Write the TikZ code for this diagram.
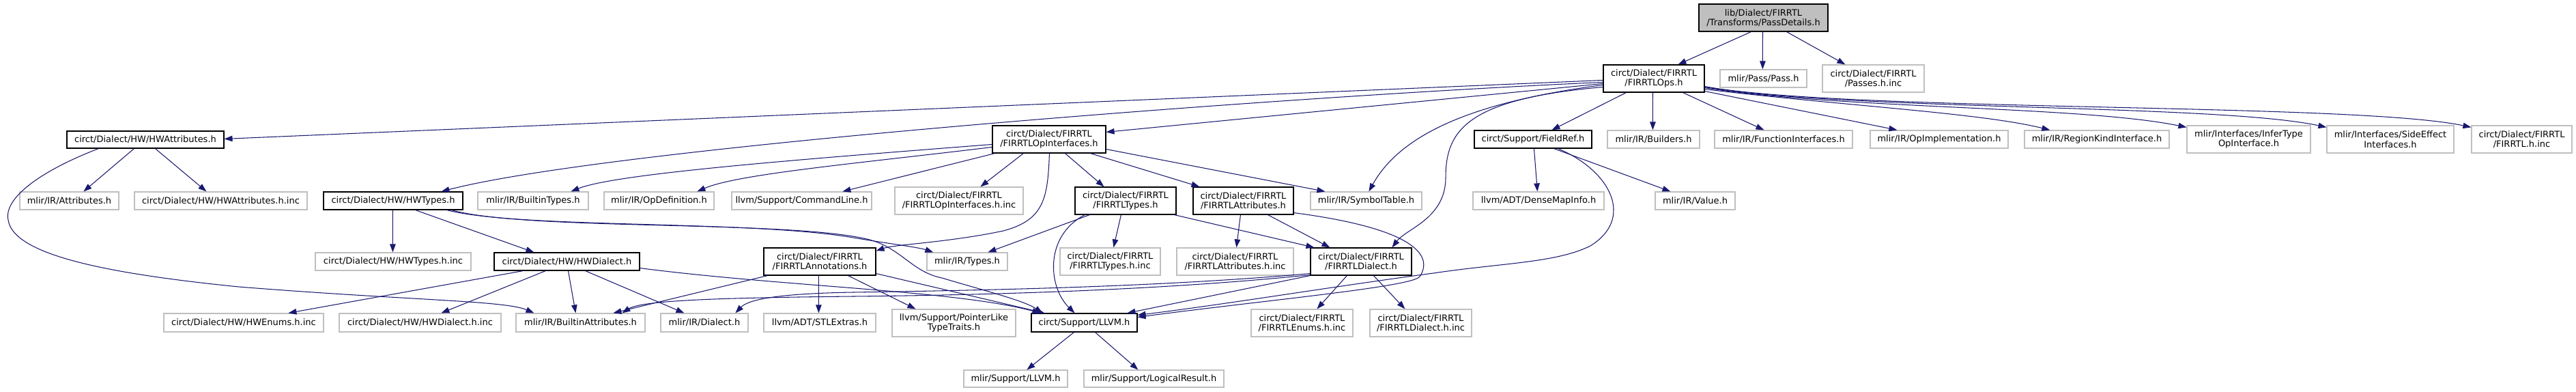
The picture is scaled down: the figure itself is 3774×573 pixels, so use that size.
\documentclass[tikz,border=0pt]{standalone}
\usepackage{fontspec}
\setmainfont{DejaVu Sans}
\usetikzlibrary{arrows.meta,calc}
\definecolor{edgec}{HTML}{191970}
\definecolor{greyb}{HTML}{BFBFBF}
\newcommand{\dnode}[7]{\node[#1, minimum width={#4-#3}, minimum height={#6-#5}] (#2) at ({(#3+#4)/2},{(#5+#6)/2}) {#7};}
\tikzset{
  nb/.style={draw=black, line width=1.1pt, fill=white, rectangle, inner sep=0pt, align=center, font=\fontsize{13}{14.5}\selectfont},
  ng/.style={nb, draw=greyb, line width=1.2pt},
  nroot/.style={nb, fill=greyb},
  edge/.style={draw=edgec, line width=1.05pt, -{Triangle[length=12pt,width=8.5pt]}},
}
\begin{document}
\begin{tikzpicture}[x=1pt,y=-1pt]
\fill[white] (0,0) rectangle (3774,573);
\useasboundingbox (0,0) rectangle (3774,573);
% row 0
\dnode{nroot}{pd}{2489}{2678}{6}{46}{lib/Dialect/FIRRTL\\/Transforms/PassDetails.h}
% row 1
\dnode{nb}{ops}{2349}{2497}{95}{135}{circt/Dialect/FIRRTL\\/FIRRTLOps.h}
\dnode{ng}{pass}{2520}{2647}{102}{128}{mlir/Pass/Pass.h}
\dnode{ng}{passes}{2670}{2819}{95}{135}{circt/Dialect/FIRRTL\\/Passes.h.inc}
% row 2
\dnode{nb}{hwattr}{98}{328}{192}{217}{circt/Dialect/HW/HWAttributes.h}
\dnode{nb}{opif}{1454}{1620}{184}{224}{circt/Dialect/FIRRTL\\/FIRRTLOpInterfaces.h}
\dnode{nb}{fieldref}{2160}{2332}{191}{217}{circt/Support/FieldRef.h}
\dnode{ng}{builders}{2355}{2490}{191}{217}{mlir/IR/Builders.h}
\dnode{ng}{funcif}{2512}{2714}{191}{217}{mlir/IR/FunctionInterfaces.h}
\dnode{ng}{opimpl}{2740}{2942}{191}{217}{mlir/IR/OpImplementation.h}
\dnode{ng}{regionkind}{2966}{3178}{191}{217}{mlir/IR/RegionKindInterface.h}
\dnode{ng}{infertype}{3204}{3385}{184}{224}{mlir/Interfaces/InferType\\OpInterface.h}
\dnode{ng}{sideeffect}{3409}{3595}{184}{224}{mlir/Interfaces/SideEffect\\Interfaces.h}
\dnode{ng}{firrtlinc}{3621}{3768}{184}{224}{circt/Dialect/FIRRTL\\/FIRRTL.h.inc}
% row 3
\dnode{ng}{attrs}{29}{174}{281}{307}{mlir/IR/Attributes.h}
\dnode{ng}{hwattrinc}{197}{450}{281}{307}{circt/Dialect/HW/HWAttributes.h.inc}
\dnode{nb}{hwtypes}{474}{678}{281}{307}{circt/Dialect/HW/HWTypes.h}
\dnode{ng}{builtintypes}{700}{862}{281}{307}{mlir/IR/BuiltinTypes.h}
\dnode{ng}{opdef}{885}{1046}{281}{307}{mlir/IR/OpDefinition.h}
\dnode{ng}{cmdline}{1072}{1277}{281}{307}{llvm/Support/CommandLine.h}
\dnode{ng}{opifinc}{1311}{1499}{274}{314}{circt/Dialect/FIRRTL\\/FIRRTLOpInterfaces.h.inc}
\dnode{nb}{ftypes}{1575}{1723}{274}{314}{circt/Dialect/FIRRTL\\/FIRRTLTypes.h}
\dnode{nb}{fattrs}{1748}{1895}{274}{314}{circt/Dialect/FIRRTL\\/FIRRTLAttributes.h}
\dnode{ng}{symtab}{1920}{2083}{281}{307}{mlir/IR/SymbolTable.h}
\dnode{ng}{densemap}{2158}{2350}{281}{307}{llvm/ADT/DenseMapInfo.h}
\dnode{ng}{value}{2425}{2542}{281}{307}{mlir/IR/Value.h}
% row 4
\dnode{ng}{hwtypesinc}{462}{690}{370}{396}{circt/Dialect/HW/HWTypes.h.inc}
\dnode{nb}{hwdialect}{724}{937}{370}{396}{circt/Dialect/HW/HWDialect.h}
\dnode{nb}{annot}{1119}{1283}{363}{403}{circt/Dialect/FIRRTL\\/FIRRTLAnnotations.h}
\dnode{ng}{types}{1358}{1476}{370}{396}{mlir/IR/Types.h}
\dnode{ng}{ftypesinc}{1553}{1700}{363}{403}{circt/Dialect/FIRRTL\\/FIRRTLTypes.h.inc}
\dnode{ng}{fattrsinc}{1724}{1895}{363}{403}{circt/Dialect/FIRRTL\\/FIRRTLAttributes.h.inc}
\dnode{nb}{fdialect}{1920}{2068}{363}{403}{circt/Dialect/FIRRTL\\/FIRRTLDialect.h}
% row 5
\dnode{ng}{hwenums}{240}{474}{459}{486}{circt/Dialect/HW/HWEnums.h.inc}
\dnode{ng}{hwdialectinc}{497}{734}{459}{486}{circt/Dialect/HW/HWDialect.h.inc}
\dnode{ng}{builtinattrs}{756}{945}{459}{486}{mlir/IR/BuiltinAttributes.h}
\dnode{ng}{dialect}{968}{1096}{459}{486}{mlir/IR/Dialect.h}
\dnode{ng}{stlextras}{1119}{1283}{459}{486}{llvm/ADT/STLExtras.h}
\dnode{ng}{pointerlike}{1307}{1488}{453}{493}{llvm/Support/PointerLike\\TypeTraits.h}
\dnode{nb}{llvm}{1511}{1666}{459}{486}{circt/Support/LLVM.h}
\dnode{ng}{fenums}{1833}{1982}{453}{493}{circt/Dialect/FIRRTL\\/FIRRTLEnums.h.inc}
\dnode{ng}{fdialectinc}{2007}{2156}{453}{493}{circt/Dialect/FIRRTL\\/FIRRTLDialect.h.inc}
% row 6
\dnode{ng}{mlirllvm}{1412}{1564}{542}{567}{mlir/Support/LLVM.h}
\dnode{ng}{logical}{1588}{1793}{542}{567}{mlir/Support/LogicalResult.h}

% ---- edges ----
% PassDetails
\draw[edge] ($(pd.south west)+(77,0)$) -- ($(ops.north west)+(110,0)$);
\draw[edge] ($(pd.south west)+(94,0)$) -- ($(pass.north west)+(63,0)$);
\draw[edge] ($(pd.south west)+(129,0)$) -- ($(passes.north west)+(34,0)$);
% FIRRTLOps
\draw[edge] ($(ops.north west)+(0,23)$) -- ($(hwattr.north east)+(0,12)$);
\draw[edge] ($(ops.north west)+(0,26)$) .. controls (1900,140) and (900,215) .. ($(hwtypes.north west)+(173,0)$);
\draw[edge] ($(ops.north west)+(0,28)$) -- ($(opif.north east)+(0,10)$);
\draw[edge] ($(ops.north west)+(0,30)$) .. controls (2150,150) and (2050,200) .. ($(symtab.north west)+(86,0)$);
\draw[edge] ($(ops.north west)+(0,33)$) .. controls (2150,145) and (2118,190) .. (2118,260) .. controls (2118,320) and (2060,335) .. ($(fdialect.north west)+(120,0)$);
\draw[edge] ($(ops.south west)+(34,0)$) -- ($(fieldref.north west)+(114,0)$);
\draw[edge] ($(ops.south west)+(73,0)$) -- ($(builders.north west)+(67,0)$);
\draw[edge] ($(ops.south west)+(117,0)$) -- ($(funcif.north west)+(73,0)$);
\draw[edge] ($(ops.south east)+(0,-2)$) -- ($(opimpl.north west)+(40,0)$);
\draw[edge] ($(ops.south east)+(0,-5)$) .. controls (2700,155) and (2900,165) .. ($(regionkind.north west)+(38,0)$);
\draw[edge] ($(ops.south east)+(0,-7)$) .. controls (2700,160) and (3050,155) .. ($(infertype.north west)+(0,3)$);
\draw[edge] ($(ops.south east)+(0,-8)$) .. controls (2700,162) and (3250,152) .. ($(sideeffect.north west)+(0,3)$);
\draw[edge] ($(ops.south east)+(0,-9)$) .. controls (2700,164) and (3450,150) .. ($(firrtlinc.north west)+(0,3)$);
% FIRRTLOpInterfaces
\draw[edge] ($(opif.north west)+(0,28)$) .. controls (1150,235) and (900,255) .. ($(builtintypes.north west)+(137,0)$);
\draw[edge] ($(opif.north west)+(0,32)$) .. controls (1250,240) and (1080,255) .. ($(opdef.north west)+(137,0)$);
\draw[edge] ($(opif.south west)+(4,0)$) -- ($(cmdline.north west)+(163,0)$);
\draw[edge] ($(opif.south west)+(46,0)$) -- ($(opifinc.north west)+(126,0)$);
\draw[edge] ($(opif.south west)+(107,0)$) -- ($(ftypes.north west)+(43,0)$);
\draw[edge] ($(opif.south west)+(144,0)$) -- ($(fattrs.north west)+(10,0)$);
\draw[edge] ($(opif.north east)+(0,35)$) -- ($(symtab.north west)+(22,0)$);
\draw[edge] ($(opif.south west)+(84,0)$) .. controls (1535,290) and (1530,322) .. (1470,338) .. controls (1390,355) and (1310,358) .. ($(annot.north east)+(0,5)$);
% HWAttributes
\draw[edge] ($(hwattr.south west)+(99,0)$) -- ($(attrs.north west)+(94,0)$);
\draw[edge] ($(hwattr.south west)+(130,0)$) -- ($(hwattrinc.north west)+(106,0)$);
\draw[edge] ($(hwattr.south west)+(47,0)$) .. controls (60,250) and (5,290) .. (12,322) .. controls (19,372) and (150,400) .. (350,420) .. controls (600,440) and (740,440) .. ($(builtinattrs.north west)+(27,0)$);
% HWTypes
\draw[edge] ($(hwtypes.south west)+(102,0)$) -- ($(hwtypesinc.north west)+(114,0)$);
\draw[edge] ($(hwtypes.south west)+(135,0)$) -- ($(hwdialect.north west)+(59,0)$);
\draw[edge] ($(hwtypes.south west)+(181,0)$) .. controls (760,335) and (1100,322) .. (1250,348) .. controls (1310,358) and (1345,362) .. ($(types.north west)+(10,0)$);
\draw[edge] ($(hwtypes.south west)+(188,0)$) .. controls (770,338) and (1150,322) .. (1270,350) .. controls (1320,362) and (1335,398) .. (1380,407) .. controls (1440,425) and (1500,440) .. ($(llvm.north west)+(17,0)$);
% HWDialect
\draw[edge] ($(hwdialect.south west)+(43,0)$) -- ($(hwenums.north west)+(183,0)$);
\draw[edge] ($(hwdialect.south west)+(76,0)$) -- ($(hwdialectinc.north west)+(150,0)$);
\draw[edge] ($(hwdialect.south west)+(109,0)$) -- ($(builtinattrs.north west)+(88,0)$);
\draw[edge] ($(hwdialect.south west)+(134,0)$) -- ($(dialect.north west)+(35,0)$);
\draw[edge] ($(hwdialect.south east)+(0,-4)$) .. controls (1150,420) and (1400,425) .. ($(llvm.north west)+(14,0)$);
% FIRRTLAnnotations
\draw[edge] ($(annot.south west)+(6,0)$) -- ($(builtinattrs.north west)+(143,0)$);
\draw[edge] ($(annot.south west)+(81,0)$) -- ($(stlextras.north west)+(81,0)$);
\draw[edge] ($(annot.south west)+(124,0)$) -- ($(pointerlike.north west)+(35,0)$);
\draw[edge] ($(annot.south east)+(0,-3)$) -- ($(llvm.north west)+(20,0)$);
% FIRRTLTypes
\draw[edge] ($(ftypes.south west)+(22,0)$) -- ($(types.north west)+(90,0)$);
\draw[edge] ($(ftypes.south west)+(68,0)$) -- ($(ftypesinc.north west)+(79,0)$);
\draw[edge] ($(ftypes.south west)+(146,0)$) -- ($(fdialect.north west)+(6,0)$);
\draw[edge] ($(ftypes.south west)+(15,0)$) .. controls (1530,345) and (1535,420) .. ($(llvm.north west)+(64,0)$);
% FIRRTLAttributes
\draw[edge] ($(fattrs.south west)+(70,0)$) -- ($(fattrsinc.north west)+(88,0)$);
\draw[edge] ($(fattrs.south west)+(110,0)$) -- ($(fdialect.north west)+(29,0)$);
\draw[edge] ($(fattrs.south east)+(0,-3)$) .. controls (2075,335) and (2100,375) .. (2080,405) .. controls (2070,420) and (1850,440) .. ($(llvm.north east)+(0,6)$);
% FIRRTLDialect
\draw[edge] ($(fdialect.south west)+(0,-3)$) .. controls (1700,420) and (1450,425) .. (1250,428) .. controls (1130,430) and (1095,440) .. ($(dialect.north west)+(110,0)$);
\draw[edge] ($(fdialect.south west)+(0,-1)$) .. controls (1700,425) and (1450,432) .. (1250,434) .. controls (1050,436) and (940,440) .. ($(builtinattrs.north west)+(156,0)$);
\draw[edge] (fdialect.south west) -- ($(llvm.north west)+(141,0)$);
\draw[edge] ($(fdialect.south west)+(54,0)$) -- ($(fenums.north west)+(97,0)$);
\draw[edge] ($(fdialect.south west)+(93,0)$) -- ($(fdialectinc.north west)+(52,0)$);
% FieldRef
\draw[edge] ($(fieldref.south west)+(88,0)$) -- ($(densemap.north west)+(95,0)$);
\draw[edge] ($(fieldref.south west)+(117,0)$) -- ($(value.north west)+(23,0)$);
\draw[edge] ($(fieldref.south west)+(123,0)$) .. controls (2360,250) and (2395,320) .. (2330,360) .. controls (2280,385) and (2200,385) .. (2100,400) .. controls (1950,420) and (1800,445) .. ($(llvm.north east)+(0,3)$);
% LLVM
\draw[edge] ($(llvm.south west)+(63,0)$) -- ($(mlirllvm.north west)+(93,0)$);
\draw[edge] ($(llvm.south west)+(94,0)$) -- ($(logical.north west)+(80,0)$);
\end{tikzpicture}
\end{document}
